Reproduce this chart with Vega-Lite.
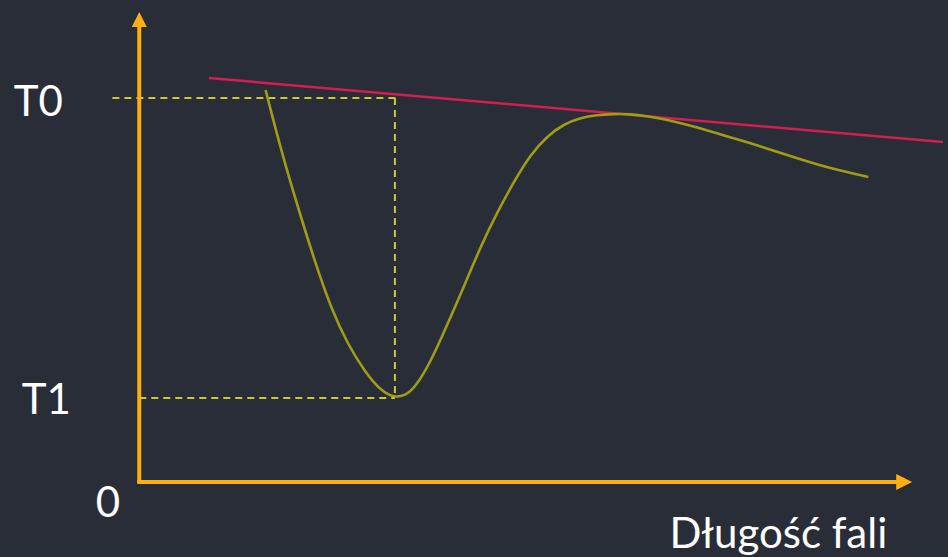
{
  "$schema": "https://vega.github.io/schema/vega-lite/v6.json",
  "width": 948,
  "height": 557,
  "padding": 0,
  "autosize": {"type": "fit", "contains": "padding"},
  "background": "#282d38",
  "config": {"view": {"stroke": null}},
  "datasets": {
    "curve": [
      {"x": 127, "y": 393}, {"x": 143, "y": 331}, {"x": 160, "y": 274}, {"x": 177, "y": 220},
      {"x": 193, "y": 174}, {"x": 210, "y": 138}, {"x": 227, "y": 111}, {"x": 243, "y": 92},
      {"x": 257, "y": 85}, {"x": 268, "y": 88}, {"x": 277, "y": 95}, {"x": 293, "y": 121},
      {"x": 310, "y": 159}, {"x": 327, "y": 198}, {"x": 343, "y": 236}, {"x": 360, "y": 271},
      {"x": 377, "y": 302}, {"x": 393, "y": 328}, {"x": 410, "y": 347}, {"x": 427, "y": 359},
      {"x": 443, "y": 365}, {"x": 460, "y": 368}, {"x": 477, "y": 369}, {"x": 493, "y": 369},
      {"x": 510, "y": 367}, {"x": 527, "y": 364}, {"x": 560, "y": 356}, {"x": 593, "y": 346},
      {"x": 627, "y": 336}, {"x": 660, "y": 325}, {"x": 693, "y": 315}, {"x": 720, "y": 309},
      {"x": 733, "y": 306}
    ],
    "tangent": [{"x": 70, "y": 405}, {"x": 808, "y": 341}],
    "dashes": [
      {"x": -27, "y": 385, "x2": 258, "y2": 385},
      {"x": 257, "y": 385, "x2": 257, "y2": 85},
      {"x": 0, "y": 85, "x2": 257, "y2": 85}
    ],
    "axes": [
      {"x": 0, "y": 0, "x2": 0, "y2": 458},
      {"x": -2, "y": 1, "x2": 763, "y2": 1}
    ],
    "arrowUp": [{"x": 0, "y": 463.5}],
    "arrowRight": [{"x": 769, "y": 1}],
    "labels": [
      {"x": -101.5, "y": 367, "label": "T0"},
      {"x": -93.5, "y": 69, "label": "T1"},
      {"x": -31.5, "y": -34, "label": "0"},
      {"x": 642.5, "y": -65, "label": "Długość fali"}
    ]
  },
  "encoding": {
    "x": {"field": "x", "type": "quantitative", "axis": null, "scale": {"domain": [-140, 808], "nice": false, "zero": false}},
    "y": {"field": "y", "type": "quantitative", "axis": null, "scale": {"domain": [-74, 483], "nice": false, "zero": false}}
  },
  "layer": [
    {
      "data": {"name": "dashes"},
      "mark": {"type": "rule", "color": "#c9cd2a", "strokeWidth": 2, "strokeDash": [7, 5]},
      "encoding": {"x2": {"field": "x2"}, "y2": {"field": "y2"}}
    },
    {
      "data": {"name": "axes"},
      "mark": {"type": "rule", "color": "#ffae10", "strokeWidth": 4},
      "encoding": {"x2": {"field": "x2"}, "y2": {"field": "y2"}}
    },
    {
      "data": {"name": "arrowUp"},
      "mark": {"type": "point", "shape": "M-1,1L0,-1L1,1Z", "filled": true, "opacity": 1, "color": "#ffae10", "size": 225}
    },
    {
      "data": {"name": "arrowRight"},
      "mark": {"type": "point", "shape": "M-1,-1L1,0L-1,1Z", "filled": true, "opacity": 1, "color": "#ffae10", "size": 256}
    },
    {
      "data": {"name": "tangent"},
      "mark": {"type": "line", "color": "#d21e50", "strokeWidth": 2.5}
    },
    {
      "data": {"name": "curve"},
      "mark": {"type": "line", "color": "#a09c16", "strokeWidth": 2.6, "interpolate": "basis"}
    },
    {
      "data": {"name": "labels"},
      "mark": {"type": "text", "color": "#ffffff", "font": "Lato", "fontSize": 42, "align": "center", "baseline": "alphabetic"},
      "encoding": {"text": {"field": "label"}}
    }
  ]
}
